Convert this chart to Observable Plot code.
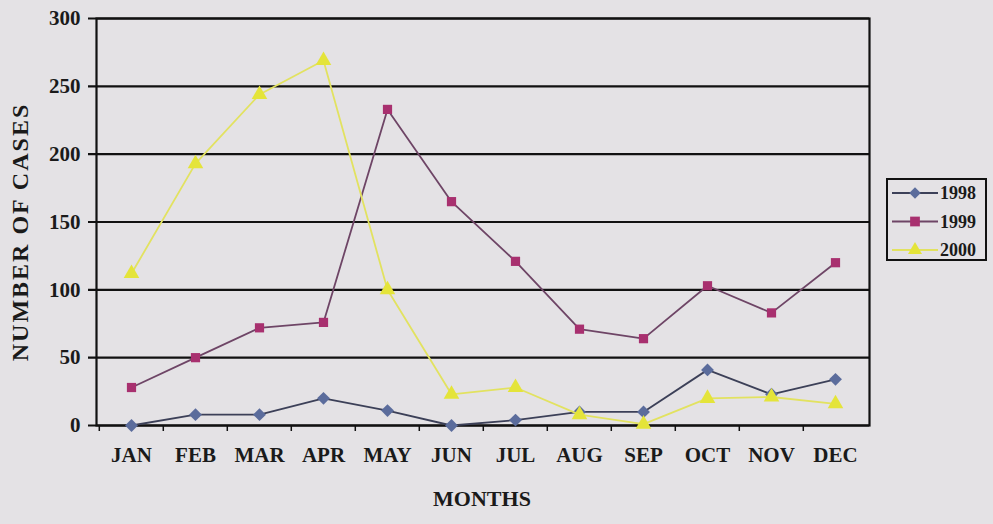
<!DOCTYPE html>
<html>
<head>
<meta charset="utf-8">
<script src="https://cdn.jsdelivr.net/npm/d3@7"></script>
<script src="https://cdn.jsdelivr.net/npm/@observablehq/plot@0.6"></script>
<style>
  html, body { margin: 0; padding: 0; background: #e4e2e5; }
  #wrap { position: relative; width: 993px; height: 524px; overflow: hidden; }
  .title { position: absolute; font-family: "Liberation Serif", "DejaVu Serif", serif; font-weight: bold; color: #1a1a1a; white-space: nowrap; }
  #ytitle { left: 20px; top: 232px; font-size: 24px; letter-spacing: 2px; transform: translate(-50%, -50%) rotate(-90deg); }
  #xtitle { left: 482px; top: 499px; font-size: 22px; transform: translate(-50%, -50%); }
  #legend { position: absolute; left: 886px; top: 178px; width: 97px; height: 79px; border: 2px solid #111; }
</style>
</head>
<body>
<div id="wrap">
  <div id="chart"></div>
  <div id="ytitle" class="title">NUMBER OF CASES</div>
  <div id="xtitle" class="title">MONTHS</div>
  <div id="legend"></div>
</div>
<script>
const months = ["JAN","FEB","MAR","APR","MAY","JUN","JUL","AUG","SEP","OCT","NOV","DEC"];
const years = ["1998","1999","2000"];
const cases1998 = [0, 8, 8, 20, 11, 0, 4, 10, 10, 41, 23, 34];
const cases1999 = [28, 50, 72, 76, 233, 165, 121, 71, 64, 103, 83, 120];
const cases2000 = [112, 193, 244, 269, 100, 23, 28, 8, 1, 20, 21, 16];
const yTicks = [0, 50, 100, 150, 200, 250, 300];

const seriesValues = [cases1998, cases1999, cases2000];
const lineColors = ["#3c4058", "#6e4566", "#e2e260"];
const markerColors = ["#5b6c9c", "#a8306f", "#e4e43a"];
const symbols = ["diamond2", "square", "triangle"];

const W = 993, H = 524, ML = 96, MR = 124, MT = 18, MB = 99;
const step = (W - ML - MR) / months.length;
const font = "'Liberation Serif', 'DejaVu Serif', serif";

const marks = [
  Plot.ruleY(yTicks, {y: d => d, stroke: "#111", strokeWidth: 2.2, insetLeft: -8}),
  Plot.frame({stroke: "#111", strokeWidth: 2.2}),
  Plot.axisX({ticks: months, tickSize: 6, tickFormat: () => "", label: null, dx: -step / 2, stroke: "#111", strokeWidth: 1.5}),
  Plot.axisX({ticks: months, tickSize: 0, tickPadding: 22, label: null, fontSize: 21, fontWeight: "bold", fontFamily: font, fill: "#1a1a1a"}),
  Plot.axisY({ticks: yTicks, tickSize: 0, tickPadding: 16, label: null, fontSize: 21, fontWeight: "bold", fontFamily: font, fill: "#1a1a1a"})
];

years.forEach((yr, k) => {
  const rows = months.map((m, i) => ({month: m, value: seriesValues[k][i]}));
  marks.push(Plot.line(rows, {x: "month", y: "value", stroke: lineColors[k], strokeWidth: 1.8}));
  marks.push(Plot.dot(rows, {x: "month", y: "value", symbol: () => symbols[k], fill: markerColors[k], r: k === 1 ? 5.2 : 5.8, stroke: "none"}));
});

const chart = Plot.plot({
  width: W, height: H,
  marginLeft: ML, marginRight: MR, marginTop: MT, marginBottom: MB,
  style: {background: "transparent", fontFamily: font, fontSize: "21px", fontWeight: "bold", color: "#1a1a1a"},
  x: {type: "point", domain: months, padding: 0.5, axis: null, label: null},
  y: {domain: [0, 300], axis: null, label: null},
  symbol: {type: "identity"},
  marks
});
document.getElementById("chart").appendChild(chart);

// legend
const lg = d3.select("#legend").append("svg").attr("width", 97).attr("height", 79);
years.forEach((yr, k) => {
  const cy = 13 + k * 28.5;
  const g = lg.append("g").attr("transform", `translate(0,${cy})`);
  g.append("line").attr("x1", 4).attr("x2", 50).attr("y1", 0).attr("y2", 0)
    .attr("stroke", lineColors[k]).attr("stroke-width", 1.8);
  const sym = [d3.symbolDiamond2, d3.symbolSquare, d3.symbolTriangle][k];
  g.append("path").attr("d", d3.symbol(sym, k === 1 ? 95 : 85)())
    .attr("transform", "translate(27,0)").attr("fill", markerColors[k]);
  g.append("text").attr("x", 52).attr("y", 0).attr("dy", "0.35em")
    .attr("font-family", font).attr("font-weight", "bold").attr("font-size", 18)
    .attr("fill", "#1a1a1a").text(yr);
});
</script>
</body>
</html>
